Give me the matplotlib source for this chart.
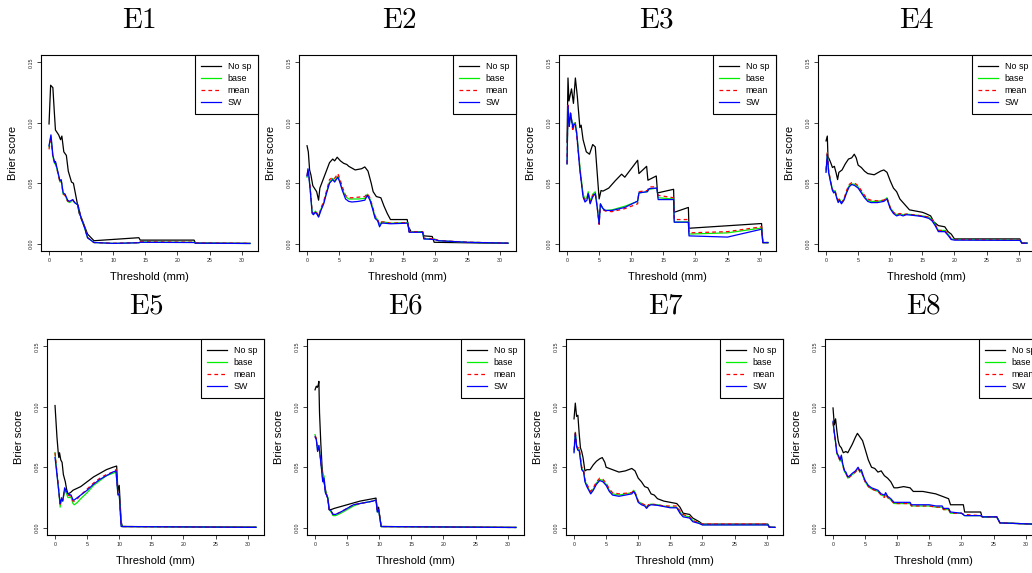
import numpy as np
import matplotlib.pyplot as plt

plt.rcParams['font.family'] = ['Liberation Sans', 'DejaVu Sans']

# Brier score vs threshold (mm)
# E1
e1_nosp_x = [0, 0.25, 0.6, 0.8, 1.0, 1.5, 1.8, 2.0, 2.3, 2.7, 3.0, 3.5, 3.8, 4.2, 4.7, 5.0, 5.5, 6.0, 7.0, 14.0, 14.2, 22.6, 22.8, 31.3]
e1_nosp = [0.099, 0.131, 0.129, 0.111, 0.094, 0.090, 0.086, 0.089, 0.076, 0.073, 0.060, 0.051, 0.050, 0.039, 0.025, 0.022, 0.015, 0.008, 0.0025, 0.005, 0.003, 0.003, 0.0005, 0.0003]
e1_x = [0, 0.3, 0.6, 0.9, 1.0, 1.4, 1.7, 1.9, 2.2, 2.5, 2.9, 3.2, 3.7, 4.0, 4.5, 5.0, 5.5, 6.0, 6.5, 7.0, 10, 14, 14.2, 22.6, 22.8, 31.3]
e1_base = [0.080, 0.089, 0.072, 0.066, 0.067, 0.058, 0.051, 0.052, 0.041, 0.040, 0.035, 0.034, 0.036, 0.034, 0.032, 0.021, 0.014, 0.005, 0.003, 0.001, 0.0003, 0.0008, 0.0015, 0.0012, 0.0006, 0.0002]
e1_mean = [0.078, 0.088, 0.071, 0.066, 0.067, 0.058, 0.051, 0.052, 0.041, 0.040, 0.035, 0.035, 0.036, 0.034, 0.032, 0.021, 0.014, 0.005, 0.003, 0.001, 0.0004, 0.0009, 0.0016, 0.0013, 0.0007, 0.0003]
e1_sw = [0.081, 0.090, 0.073, 0.067, 0.068, 0.059, 0.052, 0.053, 0.042, 0.041, 0.036, 0.035, 0.0365, 0.034, 0.032, 0.021, 0.014, 0.005, 0.003, 0.001, 0.0003, 0.0008, 0.0012, 0.0010, 0.0005, 0.0002]

# E2
e2_nosp_x = [0, 0.2, 0.4, 0.6, 0.9, 1.2, 1.5, 1.8, 2.0, 2.5, 3.0, 3.5, 4.0, 4.3, 4.7, 5.2, 5.7, 6.2, 6.5, 7.5, 8.5, 9.0, 9.5, 10.0, 10.3, 10.8, 11.5, 12.0, 12.5, 13.0, 15.6, 15.8, 16.2, 18.0, 18.2, 19.5, 19.8, 31.3]
e2_nosp = [0.081, 0.076, 0.061, 0.057, 0.048, 0.0455, 0.043, 0.036, 0.046, 0.053, 0.060, 0.067, 0.070, 0.0685, 0.0715, 0.0685, 0.0665, 0.0655, 0.064, 0.061, 0.062, 0.0635, 0.060, 0.050, 0.043, 0.039, 0.038, 0.031, 0.025, 0.020, 0.020, 0.014, 0.010, 0.010, 0.0065, 0.006, 0.0012, 0.0003]
e2_x = [0, 0.15, 0.3, 0.5, 0.8, 1.0, 1.3, 1.6, 1.8, 2.2, 2.6, 3.0, 3.5, 4.0, 4.3, 4.8, 5.1, 5.5, 6.0, 6.5, 7.0, 8.0, 9.0, 9.4, 9.8, 10.2, 10.6, 11.0, 11.3, 11.6, 12.0, 13.0, 15.7, 15.9, 18.0, 18.2, 19.8, 20.5, 25, 31.3]
e2_base = [0.055, 0.061, 0.056, 0.045, 0.026, 0.0245, 0.027, 0.025, 0.0225, 0.029, 0.034, 0.042, 0.051, 0.054, 0.052, 0.056, 0.052, 0.045, 0.039, 0.037, 0.037, 0.037, 0.0375, 0.041, 0.037, 0.030, 0.022, 0.020, 0.015, 0.018, 0.018, 0.017, 0.0175, 0.010, 0.010, 0.004, 0.004, 0.0025, 0.0012, 0.0005]
e2_mean = [0.056, 0.061, 0.057, 0.046, 0.026, 0.025, 0.027, 0.025, 0.023, 0.030, 0.035, 0.043, 0.053, 0.055, 0.054, 0.058, 0.054, 0.047, 0.040, 0.038, 0.038, 0.0385, 0.039, 0.0415, 0.038, 0.031, 0.023, 0.020, 0.016, 0.018, 0.018, 0.017, 0.0175, 0.010, 0.010, 0.0045, 0.0042, 0.0026, 0.0013, 0.0005]
e2_sw = [0.056, 0.062, 0.055, 0.044, 0.025, 0.024, 0.026, 0.024, 0.022, 0.028, 0.033, 0.041, 0.050, 0.053, 0.051, 0.055, 0.051, 0.044, 0.037, 0.035, 0.0345, 0.035, 0.036, 0.040, 0.036, 0.029, 0.021, 0.019, 0.014, 0.017, 0.017, 0.0165, 0.017, 0.0095, 0.0095, 0.004, 0.0035, 0.0025, 0.0012, 0.0005]

# E3
e3_nosp_x = [0, 0.15, 0.3, 0.7, 1.0, 1.3, 1.6, 2.0, 2.2, 2.5, 3.0, 3.5, 4.0, 4.4, 5.0, 5.3, 5.6, 6.5, 7.5, 8.5, 9.0, 11.0, 11.2, 12.4, 12.6, 13.9, 14.1, 16.6, 16.7, 18.9, 19.0, 30.3, 30.5, 31.3]
e3_nosp = [0.084, 0.137, 0.118, 0.128, 0.116, 0.137, 0.122, 0.096, 0.098, 0.086, 0.076, 0.074, 0.082, 0.080, 0.037, 0.044, 0.0435, 0.046, 0.052, 0.0575, 0.055, 0.069, 0.058, 0.064, 0.0525, 0.056, 0.042, 0.045, 0.026, 0.030, 0.0128, 0.0167, 0.0008, 0.0008]
e3_x = [0, 0.15, 0.35, 0.55, 0.75, 0.9, 1.1, 1.3, 1.5, 2.0, 2.5, 2.8, 3.1, 3.3, 3.6, 4.0, 4.4, 4.7, 5.0, 5.2, 5.6, 6.0, 7.0, 9.0, 11.0, 11.2, 12.5, 12.8, 14.0, 14.2, 16.6, 16.7, 18.9, 19.0, 25.0, 30.3, 30.5, 31.3]
e3_base = [0.066, 0.112, 0.098, 0.106, 0.102, 0.097, 0.100, 0.099, 0.093, 0.064, 0.041, 0.037, 0.038, 0.043, 0.035, 0.041, 0.043, 0.031, 0.017, 0.033, 0.029, 0.0275, 0.028, 0.031, 0.035, 0.042, 0.043, 0.045, 0.046, 0.038, 0.037, 0.018, 0.018, 0.008, 0.009, 0.013, 0.001, 0.001]
e3_mean = [0.066, 0.116, 0.097, 0.108, 0.100, 0.093, 0.098, 0.100, 0.090, 0.062, 0.039, 0.036, 0.037, 0.042, 0.034, 0.040, 0.042, 0.030, 0.016, 0.032, 0.028, 0.027, 0.0265, 0.029, 0.033, 0.043, 0.044, 0.047, 0.047, 0.040, 0.038, 0.020, 0.020, 0.009, 0.010, 0.014, 0.001, 0.001]
e3_sw = [0.066, 0.114, 0.097, 0.108, 0.101, 0.096, 0.099, 0.098, 0.0915, 0.061, 0.0387, 0.0345, 0.036, 0.0415, 0.033, 0.0387, 0.0415, 0.030, 0.0165, 0.033, 0.029, 0.0275, 0.0275, 0.030, 0.0353, 0.042, 0.043, 0.0456, 0.046, 0.0365, 0.0365, 0.0178, 0.0178, 0.0065, 0.0055, 0.012, 0.001, 0.001]

# E4
e4_nosp_x = [0, 0.2, 0.3, 0.5, 0.8, 1.0, 1.3, 1.6, 1.8, 2.0, 2.5, 3.0, 3.5, 4.0, 4.4, 4.7, 5.0, 5.5, 6.0, 6.5, 7.5, 8.5, 9.0, 9.5, 10.0, 10.5, 11.0, 11.5, 12.0, 12.5, 13.0, 14.0, 15.0, 15.5, 16.3, 16.8, 17.5, 18.5, 19.0, 19.5, 20.0, 30.2, 30.5, 31.3]
e4_nosp = [0.085, 0.089, 0.072, 0.070, 0.066, 0.063, 0.064, 0.058, 0.053, 0.059, 0.061, 0.066, 0.070, 0.071, 0.074, 0.071, 0.065, 0.063, 0.060, 0.058, 0.057, 0.060, 0.061, 0.059, 0.052, 0.046, 0.043, 0.037, 0.034, 0.031, 0.028, 0.027, 0.026, 0.025, 0.023, 0.018, 0.015, 0.014, 0.010, 0.008, 0.004, 0.004, 0.0005, 0.0005]
e4_x = [0, 0.2, 0.4, 0.7, 1.0, 1.2, 1.4, 1.7, 1.9, 2.1, 2.4, 2.8, 3.2, 3.6, 4.0, 4.5, 5.0, 5.5, 6.0, 6.5, 7.0, 8.0, 9.0, 9.5, 10.0, 10.5, 11.0, 11.5, 12.0, 12.5, 13.5, 15.0, 16.0, 16.5, 17.0, 17.5, 18.5, 19.0, 19.5, 20.0, 30.2, 30.5, 31.3]
e4_base = [0.060, 0.075, 0.060, 0.052, 0.045, 0.043, 0.044, 0.038, 0.036, 0.037, 0.034, 0.037, 0.043, 0.048, 0.0495, 0.049, 0.047, 0.043, 0.039, 0.036, 0.035, 0.035, 0.036, 0.038, 0.030, 0.026, 0.024, 0.025, 0.024, 0.0245, 0.024, 0.023, 0.022, 0.020, 0.016, 0.011, 0.011, 0.008, 0.004, 0.0035, 0.003, 0.0005, 0.0005]
e4_mean = [0.061, 0.076, 0.061, 0.052, 0.045, 0.043, 0.044, 0.038, 0.036, 0.037, 0.034, 0.037, 0.044, 0.049, 0.0505, 0.050, 0.048, 0.044, 0.040, 0.037, 0.036, 0.0355, 0.036, 0.038, 0.030, 0.026, 0.024, 0.025, 0.024, 0.0245, 0.024, 0.023, 0.022, 0.020, 0.016, 0.011, 0.011, 0.008, 0.004, 0.0035, 0.003, 0.0005, 0.0005]
e4_sw = [0.059, 0.074, 0.059, 0.051, 0.044, 0.042, 0.043, 0.037, 0.034, 0.036, 0.033, 0.036, 0.042, 0.047, 0.049, 0.048, 0.046, 0.042, 0.038, 0.035, 0.034, 0.034, 0.035, 0.037, 0.029, 0.025, 0.023, 0.024, 0.023, 0.024, 0.0235, 0.0225, 0.021, 0.019, 0.015, 0.010, 0.010, 0.007, 0.0035, 0.003, 0.0028, 0.0005, 0.0005]

# E5
e5_nosp_x = [0, 0.3, 0.5, 0.6, 0.7, 0.9, 1.1, 1.3, 1.6, 1.8, 2.0, 2.4, 2.8, 3.2, 4.0, 5.0, 6.0, 7.0, 8.0, 9.0, 9.6, 9.8, 10.0, 10.3, 10.5, 31.3]
e5_nosp = [0.101, 0.075, 0.062, 0.058, 0.062, 0.056, 0.054, 0.044, 0.038, 0.032, 0.028, 0.029, 0.031, 0.032, 0.034, 0.038, 0.042, 0.045, 0.048, 0.050, 0.051, 0.030, 0.035, 0.005, 0.001, 0.0005]
e5_x = [0, 0.3, 0.5, 0.8, 1.0, 1.2, 1.5, 1.8, 2.0, 2.5, 2.8, 3.0, 3.5, 4.0, 5.0, 6.0, 7.0, 8.0, 9.0, 9.5, 9.8, 10.0, 10.3, 10.5, 31.3]
e5_base = [0.062, 0.045, 0.035, 0.017, 0.024, 0.022, 0.031, 0.028, 0.025, 0.025, 0.020, 0.019, 0.021, 0.024, 0.029, 0.035, 0.039, 0.043, 0.045, 0.046, 0.028, 0.028, 0.002, 0.001, 0.0003]
e5_mean = [0.062, 0.046, 0.036, 0.018, 0.025, 0.023, 0.032, 0.029, 0.027, 0.026, 0.022, 0.022, 0.024, 0.027, 0.032, 0.037, 0.041, 0.044, 0.046, 0.048, 0.028, 0.029, 0.002, 0.001, 0.0003]
e5_sw = [0.058, 0.044, 0.034, 0.020, 0.024, 0.022, 0.033, 0.030, 0.028, 0.027, 0.023, 0.023, 0.025, 0.027, 0.031, 0.036, 0.040, 0.043, 0.046, 0.047, 0.027, 0.028, 0.001, 0.001, 0.0003]

# E6
e6_nosp_x = [0, 0.2, 0.35, 0.5, 0.6, 0.7, 0.9, 1.1, 1.3, 1.5, 1.8, 2.0, 2.2, 2.5, 3.0, 5.0, 7.0, 9.0, 9.5, 9.7, 9.9, 10.3, 31.3]
e6_nosp = [0.114, 0.117, 0.116, 0.118, 0.121, 0.095, 0.070, 0.050, 0.040, 0.035, 0.027, 0.024, 0.015, 0.015, 0.016, 0.019, 0.022, 0.024, 0.0245, 0.015, 0.017, 0.001, 0.0003]
e6_x = [0, 0.2, 0.4, 0.6, 0.8, 1.0, 1.2, 1.4, 1.6, 1.8, 2.0, 2.2, 2.5, 2.8, 3.2, 4.0, 5.0, 6.0, 7.0, 8.0, 9.0, 9.5, 9.7, 9.9, 10.3, 31.3]
e6_base = [0.077, 0.073, 0.064, 0.068, 0.060, 0.050, 0.039, 0.043, 0.030, 0.028, 0.025, 0.015, 0.013, 0.010, 0.010, 0.012, 0.015, 0.018, 0.020, 0.021, 0.022, 0.023, 0.013, 0.015, 0.001, 0.0002]
e6_mean = [0.076, 0.074, 0.064, 0.067, 0.060, 0.050, 0.041, 0.042, 0.030, 0.027, 0.025, 0.015, 0.014, 0.011, 0.011, 0.013, 0.016, 0.019, 0.020, 0.021, 0.022, 0.023, 0.013, 0.015, 0.001, 0.0002]
e6_sw = [0.075, 0.073, 0.063, 0.068, 0.059, 0.049, 0.038, 0.041, 0.029, 0.027, 0.024, 0.015, 0.014, 0.011, 0.011, 0.013, 0.016, 0.019, 0.020, 0.021, 0.022, 0.023, 0.013, 0.015, 0.001, 0.0002]

# E7
e7_nosp_x = [0, 0.2, 0.4, 0.6, 0.8, 1.0, 1.2, 1.4, 1.7, 2.0, 2.5, 3.0, 3.5, 4.0, 4.4, 4.8, 5.0, 6.0, 7.0, 8.0, 9.0, 9.5, 10.0, 10.5, 11.0, 11.5, 12.0, 12.5, 13.0, 14.0, 15.0, 16.0, 16.5, 17.0, 18.0, 18.5, 19.5, 20.0, 30.2, 30.4, 31.3]
e7_nosp = [0.090, 0.103, 0.092, 0.093, 0.078, 0.066, 0.063, 0.058, 0.047, 0.048, 0.048, 0.052, 0.055, 0.057, 0.058, 0.054, 0.050, 0.048, 0.046, 0.047, 0.049, 0.047, 0.041, 0.038, 0.034, 0.033, 0.028, 0.027, 0.024, 0.022, 0.021, 0.020, 0.017, 0.012, 0.011, 0.008, 0.005, 0.003, 0.003, 0.0005, 0.0003]
e7_x = [0, 0.2, 0.4, 0.6, 0.8, 1.0, 1.2, 1.5, 1.7, 2.0, 2.3, 2.6, 3.0, 3.5, 4.0, 4.5, 5.0, 5.5, 6.0, 7.0, 8.0, 9.0, 9.3, 9.6, 10.0, 10.5, 11.0, 11.3, 11.6, 12.0, 13.0, 14.0, 15.0, 16.0, 16.5, 17.0, 18.0, 18.5, 19.5, 20.0, 30.2, 30.4, 31.3]
e7_base = [0.063, 0.079, 0.068, 0.065, 0.065, 0.057, 0.049, 0.047, 0.039, 0.035, 0.032, 0.029, 0.032, 0.037, 0.040, 0.039, 0.036, 0.031, 0.028, 0.027, 0.028, 0.029, 0.031, 0.028, 0.022, 0.020, 0.019, 0.017, 0.019, 0.0195, 0.019, 0.018, 0.017, 0.017, 0.013, 0.010, 0.009, 0.006, 0.004, 0.0025, 0.0025, 0.0005, 0.0003]
e7_mean = [0.064, 0.080, 0.068, 0.066, 0.066, 0.058, 0.050, 0.048, 0.040, 0.036, 0.033, 0.030, 0.033, 0.038, 0.041, 0.040, 0.037, 0.032, 0.029, 0.028, 0.0285, 0.029, 0.031, 0.028, 0.022, 0.020, 0.019, 0.017, 0.019, 0.0195, 0.019, 0.018, 0.018, 0.018, 0.014, 0.011, 0.009, 0.006, 0.004, 0.003, 0.003, 0.0005, 0.0003]
e7_sw = [0.062, 0.078, 0.067, 0.064, 0.064, 0.056, 0.048, 0.046, 0.038, 0.034, 0.031, 0.028, 0.031, 0.036, 0.039, 0.038, 0.035, 0.030, 0.027, 0.026, 0.027, 0.028, 0.030, 0.027, 0.021, 0.019, 0.018, 0.016, 0.018, 0.019, 0.0185, 0.0175, 0.0165, 0.0165, 0.012, 0.009, 0.008, 0.005, 0.0035, 0.0023, 0.0023, 0.0005, 0.0003]

# E8
e8_nosp_x = [0, 0.2, 0.4, 0.6, 0.8, 1.0, 1.3, 1.6, 2.0, 2.3, 2.6, 3.0, 3.5, 3.8, 4.2, 4.6, 5.0, 5.5, 6.0, 6.5, 7.0, 7.5, 8.0, 8.5, 9.0, 9.5, 10.0, 11.0, 12.0, 12.5, 14.0, 15.0, 16.0, 17.0, 18.0, 18.3, 20.3, 20.5, 23.0, 23.2, 25.5, 26.0, 31.3]
e8_nosp = [0.099, 0.085, 0.090, 0.080, 0.072, 0.068, 0.066, 0.062, 0.063, 0.062, 0.065, 0.069, 0.075, 0.078, 0.075, 0.072, 0.065, 0.056, 0.050, 0.049, 0.046, 0.047, 0.043, 0.041, 0.038, 0.033, 0.033, 0.034, 0.033, 0.030, 0.030, 0.029, 0.028, 0.026, 0.024, 0.019, 0.019, 0.013, 0.013, 0.009, 0.009, 0.004, 0.003]
e8_x = [0, 0.2, 0.4, 0.6, 0.9, 1.1, 1.3, 1.5, 1.8, 2.0, 2.3, 2.6, 3.0, 3.5, 3.9, 4.2, 4.4, 4.7, 5.0, 5.5, 6.0, 6.5, 7.0, 7.5, 8.0, 8.2, 8.5, 9.0, 9.5, 11.0, 12.0, 12.2, 14.0, 15.0, 16.0, 17.0, 17.2, 18.0, 18.3, 20.0, 20.5, 23.0, 23.3, 25.5, 26.0, 31.3]
e8_base = [0.087, 0.078, 0.070, 0.061, 0.058, 0.055, 0.059, 0.052, 0.046, 0.045, 0.041, 0.042, 0.044, 0.046, 0.049, 0.046, 0.047, 0.042, 0.038, 0.034, 0.032, 0.031, 0.030, 0.027, 0.026, 0.028, 0.025, 0.023, 0.020, 0.020, 0.020, 0.018, 0.018, 0.018, 0.017, 0.017, 0.015, 0.015, 0.012, 0.012, 0.010, 0.010, 0.009, 0.009, 0.004, 0.003]
e8_mean = [0.087, 0.078, 0.070, 0.061, 0.058, 0.055, 0.059, 0.052, 0.046, 0.045, 0.041, 0.042, 0.044, 0.046, 0.049, 0.046, 0.047, 0.042, 0.038, 0.034, 0.032, 0.031, 0.030, 0.027, 0.025, 0.028, 0.025, 0.023, 0.020, 0.020, 0.020, 0.018, 0.018, 0.018, 0.017, 0.017, 0.015, 0.015, 0.012, 0.012, 0.011, 0.010, 0.009, 0.009, 0.004, 0.003]
e8_sw = [0.088, 0.079, 0.071, 0.062, 0.059, 0.056, 0.060, 0.053, 0.047, 0.046, 0.042, 0.043, 0.045, 0.047, 0.050, 0.047, 0.048, 0.043, 0.039, 0.035, 0.033, 0.032, 0.031, 0.028, 0.027, 0.029, 0.026, 0.024, 0.021, 0.021, 0.021, 0.019, 0.019, 0.019, 0.018, 0.018, 0.016, 0.016, 0.013, 0.012, 0.010, 0.010, 0.009, 0.009, 0.004, 0.003]

titles = ['E1', 'E2', 'E3', 'E4', 'E5', 'E6', 'E7', 'E8']
legend_labels = ['No sp', 'base', 'mean', 'SW']
panels = [
    (e1_nosp_x, e1_nosp, e1_x, e1_base, e1_mean, e1_sw),
    (e2_nosp_x, e2_nosp, e2_x, e2_base, e2_mean, e2_sw),
    (e3_nosp_x, e3_nosp, e3_x, e3_base, e3_mean, e3_sw),
    (e4_nosp_x, e4_nosp, e4_x, e4_base, e4_mean, e4_sw),
    (e5_nosp_x, e5_nosp, e5_x, e5_base, e5_mean, e5_sw),
    (e6_nosp_x, e6_nosp, e6_x, e6_base, e6_mean, e6_sw),
    (e7_nosp_x, e7_nosp, e7_x, e7_base, e7_mean, e7_sw),
    (e8_nosp_x, e8_nosp, e8_x, e8_base, e8_mean, e8_sw),
]

W, H = 1032, 573
fig = plt.figure(figsize=(W / 100, H / 100), dpi=100)

# panel boxes in pixels: (left, top), each 217 x 196
box_left = [41, 299, 559, 818, 47, 307, 566, 825]
box_top = [55, 55, 55, 55, 339, 339, 339, 339]
title_x = [139, 399, 657, 917, 146, 406, 666, 924]
title_y = [20, 20, 20, 20, 305, 305, 305, 305]
bw, bh = 217, 196

for i, (nx, ny, cx, base, mean, sw) in enumerate(panels):
    ax = fig.add_axes([box_left[i] / W, 1 - (box_top[i] + bh) / H, bw / W, bh / H])
    ax.plot(nx, ny, color='black', lw=0.9, label=legend_labels[0])
    ax.plot(cx, base, color='#00ee00', lw=0.9, label=legend_labels[1])
    ax.plot(cx, mean, color='red', lw=0.9, ls=(0, (3, 2.5)), label=legend_labels[2])
    ax.plot(cx, sw, color='blue', lw=0.9, label=legend_labels[3])

    ax.set_xlim(-1.25, 32.55)
    ax.set_ylim(-0.006, 0.156)
    ax.set_xticks([0, 5, 10, 15, 20, 25, 30])
    ax.set_yticks([0, 0.05, 0.10, 0.15])
    ax.set_yticklabels(['0.00', '0.05', '0.10', '0.15'], rotation=90, va='center')
    ax.tick_params(direction='out', length=3, width=0.6, labelsize=3.8, pad=2, colors='#222222')
    for s in ax.spines.values():
        s.set_linewidth(0.8)

    ax.set_xlabel('Threshold (mm)', fontsize=8, va='center')
    ax.xaxis.set_label_coords(0.5, -26 / bh)
    ax.set_ylabel('Brier score', fontsize=8, va='center')
    ax.yaxis.set_label_coords(-28 / bw, 0.5)

    leg = ax.legend(loc='upper right', fontsize=6.4, fancybox=False, edgecolor='black',
                    framealpha=1, borderaxespad=0, handlelength=2.2, handletextpad=0.8,
                    labelspacing=0.35, borderpad=0.75)
    leg.get_frame().set_linewidth(0.8)

    fig.text(title_x[i] / W, 1 - title_y[i] / H, r'$\mathrm{' + titles[i] + '}$',
             fontsize=21, math_fontfamily='cm', ha='center', va='center')

fig.savefig('out.png', dpi=100)
